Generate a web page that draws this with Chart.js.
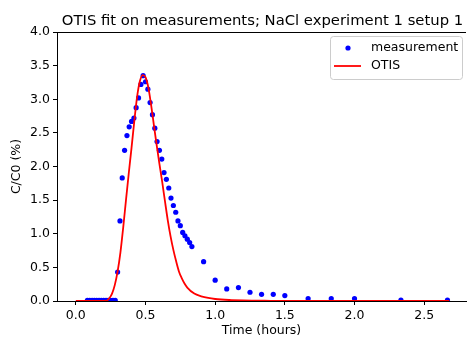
<!DOCTYPE html>
<html>
<head>
<meta charset="utf-8">
<script src="https://cdn.jsdelivr.net/npm/chart.js@4"></script>
<style>
  html, body { margin: 0; padding: 0; background: #fff; }
  #wrap { width: 470px; height: 338px; }
</style>
</head>
<body>
<div id="wrap"><canvas id="myChart" width="470" height="338"></canvas></div>
<script>
const chartTitle = "OTIS fit on measurements; NaCl experiment 1 setup 1";
const xLabel = "Time (hours)";
const yLabel = "C/C0 (%)";
const xTicks = [0.0, 0.5, 1.0, 1.5, 2.0, 2.5];

// measured points (time in hours, C/C0 in %)
const measTime = [
    0.083, 0.1, 0.117, 0.133, 0.15, 0.167, 0.183, 0.2, 0.217, 0.233, 0.25, 0.267, 0.283,
    0.3, 0.317, 0.333, 0.35, 0.367, 0.383, 0.4, 0.417, 0.433, 0.45, 0.467, 0.483,
    0.5, 0.517, 0.533, 0.55, 0.567, 0.583, 0.6, 0.617, 0.633, 0.65, 0.667, 0.683,
    0.7, 0.717, 0.733, 0.75, 0.767, 0.783, 0.8, 0.817, 0.833,
    0.917, 1.0, 1.083, 1.167, 1.25, 1.333, 1.417, 1.5,
    1.667, 1.833, 2.0, 2.333, 2.667
];
const measValue = [
    0.01, 0.01, 0.01, 0.01, 0.01, 0.01, 0.01, 0.01, 0.01, 0.01, 0.01, 0.01, 0.01,
    0.43, 1.19, 1.83, 2.24, 2.46, 2.59, 2.67, 2.72, 2.875, 3.02, 3.22, 3.35,
    3.26, 3.15, 2.95, 2.77, 2.57, 2.37, 2.24, 2.11, 1.91, 1.81, 1.68, 1.53,
    1.42, 1.32, 1.19, 1.12, 1.02, 0.97, 0.92, 0.87, 0.81,
    0.585, 0.31, 0.18, 0.2, 0.13, 0.1, 0.1, 0.08,
    0.035, 0.035, 0.035, 0.015, 0.015
];

// OTIS model curve
const otisTime = [
    0.0, 0.1, 0.2, 0.22, 0.24, 0.26, 0.28, 0.3, 0.32, 0.34, 0.36, 0.38, 0.4,
    0.42, 0.44, 0.46, 0.48, 0.5, 0.52, 0.54, 0.56, 0.58, 0.6, 0.62, 0.64,
    0.66, 0.68, 0.7, 0.72, 0.74, 0.76, 0.78, 0.8, 0.85, 0.9, 0.95, 1.0,
    1.1, 1.2, 1.4, 1.6, 2.0, 2.4, 2.68
];
const otisValue = [
    0.0, 0.0, 0.0, 0.003, 0.04, 0.11, 0.24, 0.44, 0.72, 1.09, 1.5, 1.9, 2.28,
    2.68, 3.04, 3.27, 3.36, 3.33, 3.18, 2.92, 2.62, 2.32, 2.04, 1.77, 1.48,
    1.2, 0.96, 0.76, 0.59, 0.44, 0.34, 0.26, 0.2, 0.11, 0.07, 0.045, 0.03,
    0.015, 0.008, 0.003, 0.0, 0.0, 0.0, 0.0
];

const fontFamily = "'DejaVu Sans', sans-serif";

const measPoints = measTime.map((t, i) => ({ x: t, y: measValue[i] }));
const otisPoints = otisTime.map((t, i) => ({ x: t, y: otisValue[i] }));

const titleAndFrame = {
    id: 'titleAndFrame',
    afterDatasetsDraw(chart) {
        const { ctx, chartArea } = chart;
        ctx.save();
        // top spine
        ctx.strokeStyle = '#000';
        ctx.lineWidth = 1;
        ctx.beginPath();
        ctx.moveTo(chartArea.left, Math.round(chartArea.top) + 0.5);
        ctx.lineTo(chartArea.right, Math.round(chartArea.top) + 0.5);
        ctx.stroke();
        // title
        ctx.fillStyle = '#000';
        ctx.font = "14.8px " + fontFamily;
        ctx.textAlign = 'center';
        ctx.textBaseline = 'alphabetic';
        ctx.fillText(chartTitle, (chartArea.left + chartArea.right) / 2 + 1, chartArea.top - 7);
        ctx.restore();
    },
    afterDraw(chart) {
        // legend box, matplotlib style
        const { ctx, chartArea } = chart;
        const ds = chart.data.datasets;
        const bx = chartArea.right - 136, by = chartArea.top + 4, bw = 132, bh = 43;
        ctx.save();
        ctx.fillStyle = 'rgba(255,255,255,0.8)';
        ctx.strokeStyle = '#cccccc';
        ctx.lineWidth = 1;
        ctx.beginPath();
        ctx.roundRect(bx + 0.5, by + 0.5, bw, bh, 3);
        ctx.fill();
        ctx.stroke();

        ctx.fillStyle = ds[0].backgroundColor;
        ctx.beginPath();
        ctx.arc(bx + 18, by + 12, 2.6, 0, Math.PI * 2);
        ctx.fill();

        ctx.strokeStyle = ds[1].borderColor;
        ctx.lineWidth = 1.8;
        ctx.beginPath();
        ctx.moveTo(bx + 4, by + 30);
        ctx.lineTo(bx + 31, by + 30);
        ctx.stroke();

        ctx.fillStyle = '#000';
        ctx.font = "12.5px " + fontFamily;
        ctx.textAlign = 'left';
        ctx.textBaseline = 'middle';
        ctx.fillText(ds[0].label, bx + 41, by + 12);
        ctx.fillText(ds[1].label, bx + 41, by + 30);
        ctx.restore();
    }
};

const config = {
    type: 'scatter',
    data: {
        datasets: [{
            label: 'measurement',
            data: measPoints,
            backgroundColor: '#0000ff',
            borderWidth: 0,
            pointRadius: 2.6,
            showLine: false,
            order: 2
        }, {
            label: 'OTIS',
            data: otisPoints,
            borderColor: '#ff0000',
            backgroundColor: '#ff0000',
            borderWidth: 1.8,
            pointRadius: 0,
            showLine: true,
            cubicInterpolationMode: 'monotone',
            order: 1
        }]
    },
    options: {
        responsive: false,
        animation: false,
        layout: { padding: { top: 32, left: 0, right: 0, bottom: 0 } },
        plugins: {
            legend: { display: false },
            tooltip: { enabled: false },
            title: { display: false }
        },
        scales: {
            x: {
                type: 'linear',
                min: -0.135,
                max: 2.80,
                afterBuildTicks: (scale) => {
                    scale.ticks = xTicks.map(v => ({ value: v }));
                },
                afterFit: (scale) => { scale.height = 37; },
                ticks: {
                    color: '#000',
                    padding: 3,
                    maxRotation: 0,
                    font: { family: fontFamily, size: 12.5 },
                    callback: (v) => Number(v).toFixed(1)
                },
                grid: {
                    drawOnChartArea: false,
                    drawTicks: true,
                    tickLength: 4,
                    tickColor: '#000'
                },
                border: { display: true, color: '#000', width: 1 },
                title: {
                    display: true,
                    text: xLabel,
                    color: '#000',
                    font: { family: fontFamily, size: 12.5 },
                    padding: { top: 0, bottom: 0 }
                }
            },
            y: {
                min: 0,
                max: 4,
                afterFit: (scale) => { scale.width = 57; },
                ticks: {
                    stepSize: 0.5,
                    color: '#000',
                    padding: 3,
                    font: { family: fontFamily, size: 12.5 },
                    callback: (v) => Number(v).toFixed(1)
                },
                grid: {
                    drawOnChartArea: false,
                    drawTicks: true,
                    tickLength: 4,
                    tickColor: '#000'
                },
                border: { display: true, color: '#000', width: 1 },
                title: {
                    display: true,
                    text: yLabel,
                    color: '#000',
                    font: { family: fontFamily, size: 12.5 },
                    padding: { top: 9, bottom: 0 }
                }
            }
        }
    },
    plugins: [titleAndFrame]
};

const chartDOM = document.getElementById('myChart');
window.otisChart = new Chart(chartDOM, config);
</script>
</body>
</html>
